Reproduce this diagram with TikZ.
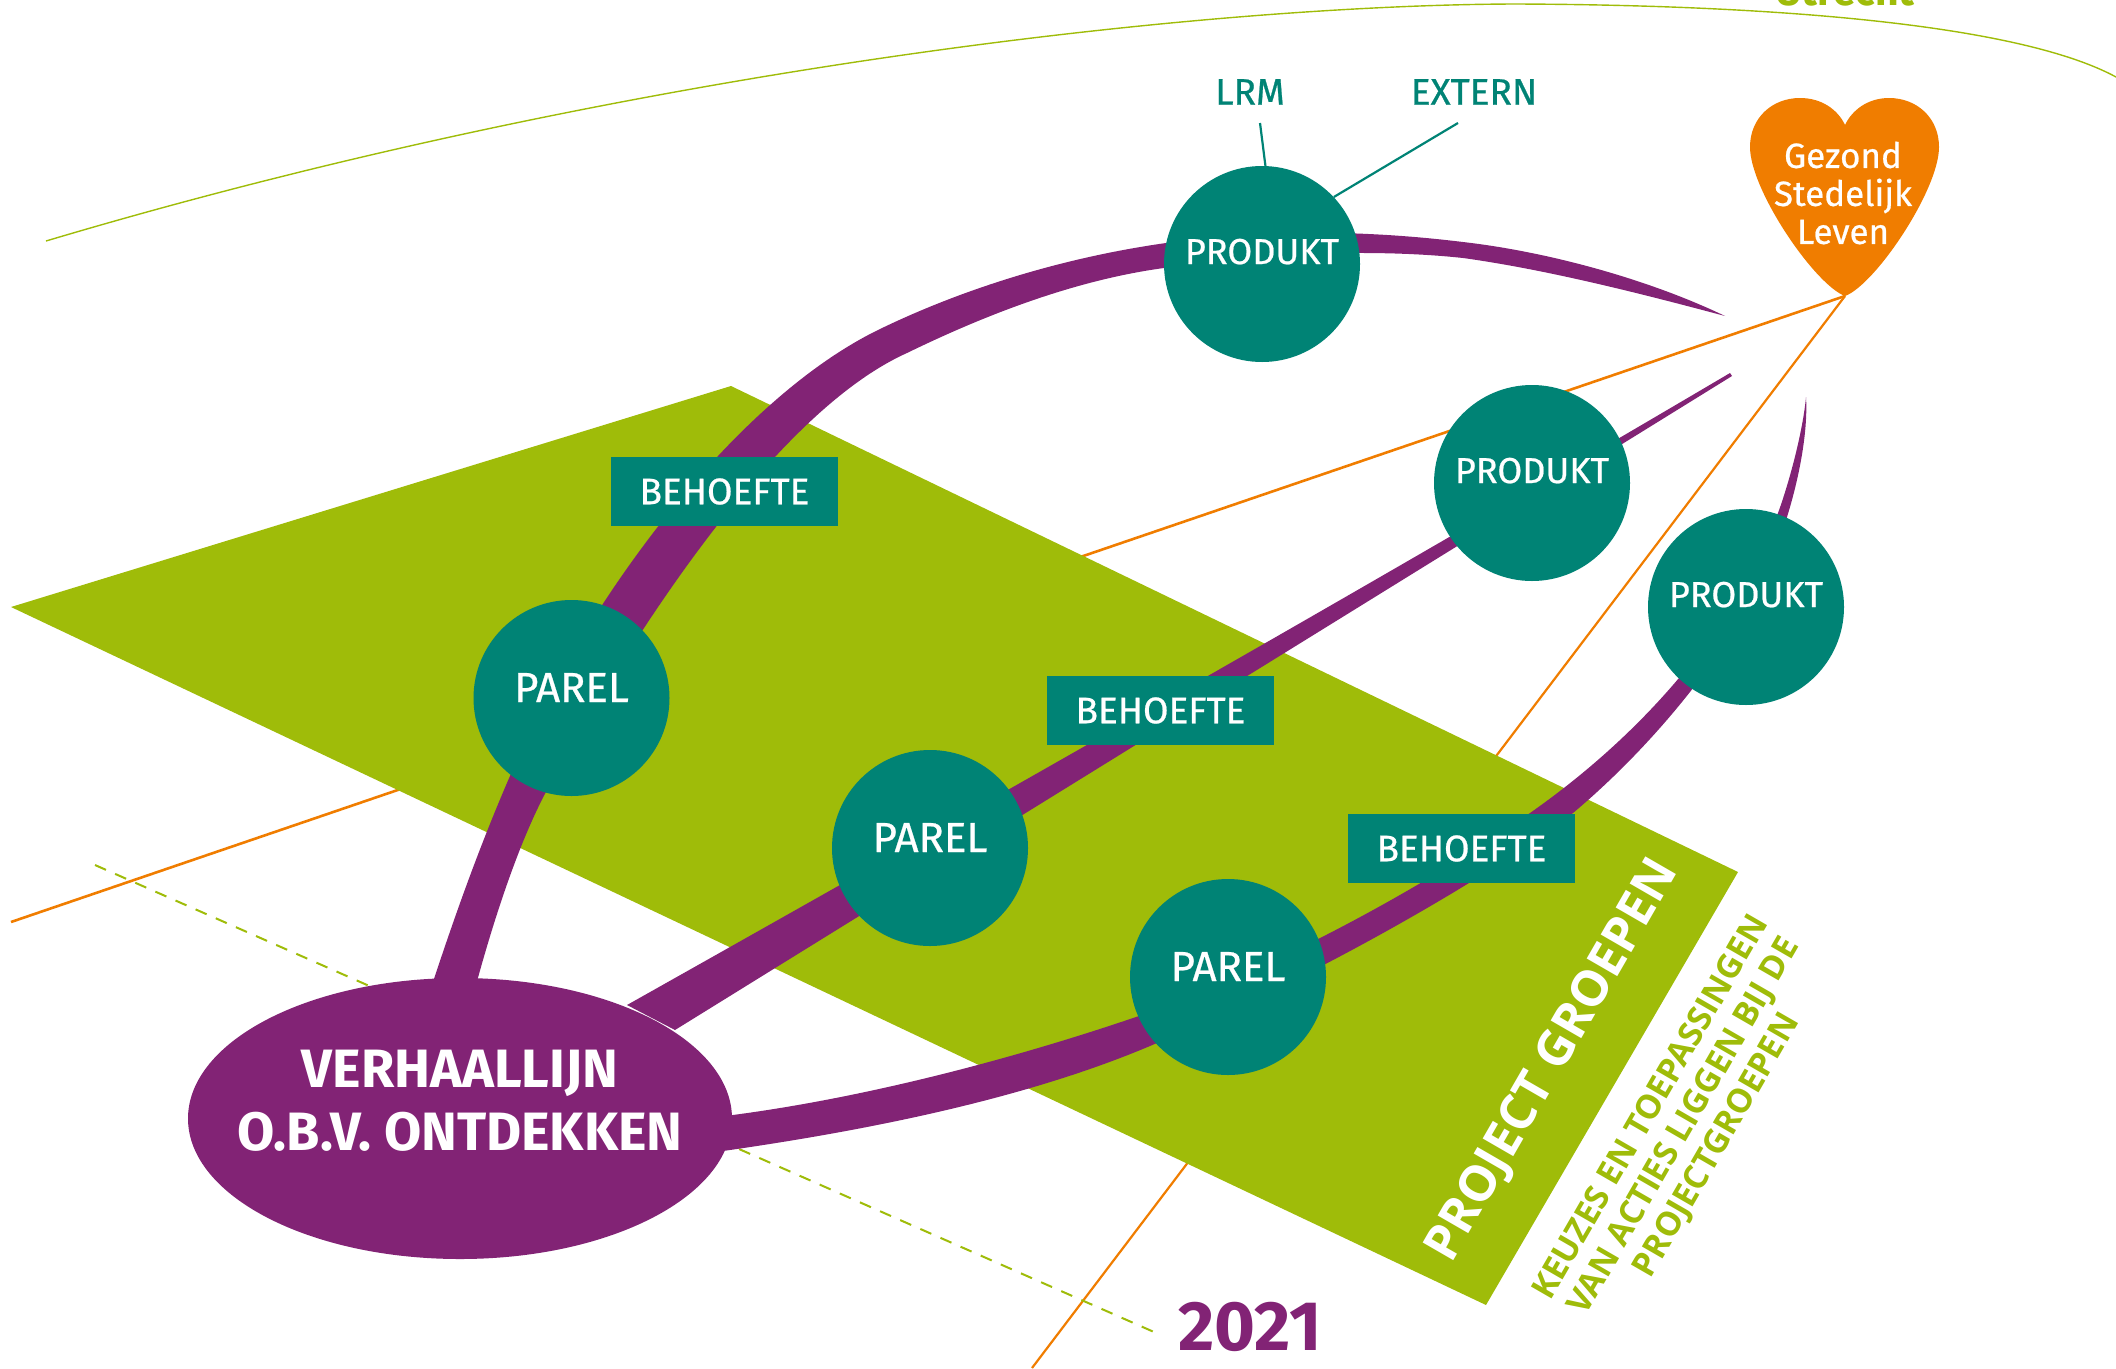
\documentclass[tikz,border=0pt]{standalone}
\usetikzlibrary{shapes.geometric}
\usepackage{fontspec}
\setmainfont{Fira Sans}
\newfontfamily\rotfont{Open Sans}
\definecolor{teal1}{HTML}{008375}
\definecolor{purp}{HTML}{822375}
\definecolor{lime}{HTML}{9FBC09}
\definecolor{orng}{HTML}{F07D00}
\newcommand{\labelfont}[1]{\fontsize{#1}{#1}\selectfont\addfontfeatures{FakeBold=0.6}}
\tikzset{
  plane/.style={fill=lime,draw=none},
  circ/.style={circle,fill=teal1,text=white,minimum size=196pt,inner sep=0pt,text height=0pt,text depth=0pt,font=\labelfont{36}},
  pearl/.style={circ,text height=8pt,font=\labelfont{42}},
  need/.style={rectangle,fill=teal1,text=white,minimum width=227pt,minimum height=69pt,inner sep=0pt,font=\labelfont{37}},
  tape/.style={fill=purp,draw=none},
  hopeline/.style={draw=orng,line width=2.6pt},
  timeline/.style={draw=lime,line width=2pt,dash pattern=on 12pt off 10pt},
  arcline/.style={draw=lime,line width=1.4pt},
  tie/.style={draw=teal1,line width=2.2pt},
  ext/.style={text=teal1,font=\labelfont{37}},
}
\begin{document}
\begin{tikzpicture}[x=1pt,y=-1pt]
\useasboundingbox (0,0) rectangle (2116,1368);
\clip (0,0) rectangle (2116,1368);
% far elements
\node[anchor=base,text=lime,font=\fontsize{41}{44}\selectfont\bfseries] (streek) at (1845,5) {Utrecht};
\coordinate (arcA) at (46,241);
\coordinate (arcB) at (2116,77);
\draw[arcline] (arcA) .. controls (620,70) and (1200,5) .. (1515,4) .. controls (1780,5) and (2020,25) .. (arcB);
\coordinate (tip) at (1845,296);
\coordinate (oa) at (11,922);
\coordinate (ob) at (1032,1368);
\draw[hopeline] (tip) -- (oa);
\draw[hopeline,line width=2.2pt] (tip) -- (ob);
\coordinate (da) at (95,865);
\coordinate (db) at (1154,1332);
\draw[timeline] (da) -- (db);
% plane
\fill[plane] (731,386) -- (1738,872) -- (1486,1305) -- (11,607) -- cycle;
% tapered story lines
\fill[tape] (432,985) .. controls (455,915) and (480,845) .. (510,776)
  .. controls (585,600) and (735,400) .. (878,330)
  .. controls (960,290) and (1060,258) .. (1166,243)
  .. controls (1265,229) and (1365,230) .. (1463,242)
  .. controls (1550,252) and (1650,280) .. (1725,316)
  .. controls (1650,296) and (1550,270) .. (1463,258)
  .. controls (1380,249) and (1265,252) .. (1164,268)
  .. controls (1075,280) and (985,315) .. (907,353)
  .. controls (780,410) and (640,620) .. (547,790)
  .. controls (520,840) and (495,915) .. (476,985) -- cycle;
\fill[tape] (627,1005) .. controls (995,798) and (1362,590) .. (1730,373)
  -- (1732,376) .. controls (1380,594) and (1027,812) .. (675,1030) -- cycle;
\fill[tape] (725,1116) .. controls (860,1099) and (1010,1060) .. (1139,1016)
  .. controls (1270,971) and (1420,890) .. (1530,813)
  .. controls (1630,743) and (1730,640) .. (1778,513)
  .. controls (1790,480) and (1803,430) .. (1806,397)
  .. controls (1808,430) and (1800,475) .. (1787,517)
  .. controls (1755,625) and (1660,740) .. (1573,813)
  .. controls (1486,880) and (1300,985) .. (1157,1043)
  .. controls (1030,1098) and (870,1130) .. (723,1151) -- cycle;
% teal ties
\coordinate (lrmend) at (1260,123);
\coordinate (extend) at (1458,123);
% nodes
\node[ellipse,fill=purp,minimum width=544pt,minimum height=281pt,inner sep=0pt,
  label={[text=white,align=center,yshift=18pt,font=\fontsize{54}{63}\selectfont\bfseries]center:{VERHAALLIJN\\O.B.V. ONTDEKKEN}}] (story) at (460,1118.5) {};
\node[pearl] (p1) at (571.5,698) {PAREL};
\node[pearl] (p2) at (930,848) {PAREL};
\node[pearl] (p3) at (1228,977) {PAREL};
\node[circ] (d1) at (1262,264) {PRODUKT};
\node[circ] (d2) at (1532,483) {PRODUKT};
\node[circ] (d3) at (1746,607) {PRODUKT};
\node[need] (b1) at (724.5,491.5) {BEHOEFTE};
\node[need] (b2) at (1160.5,710.5) {BEHOEFTE};
\node[need] (b3) at (1461.5,848.5) {BEHOEFTE};
\draw[tie] (d1.88) -- (lrmend);
\draw[tie] (d1.43) -- (extend);
\node[ext] (lrm) at (1250,92) {LRM};
\node[ext] (extern) at (1474,92) {EXTERN};
% heart
\fill[orng] (tip) .. controls (1815,285) and (1750,190) .. (1750,147)
  .. controls (1750,118) and (1772,98) .. (1800,98)
  .. controls (1822,98) and (1838,110) .. (1845,125)
  .. controls (1852,110) and (1868,98) .. (1889,98)
  .. controls (1917,98) and (1939,118) .. (1939,147)
  .. controls (1939,190) and (1875,285) .. (tip) -- cycle;
\node[text=white,align=center,font=\fontsize{35}{38}\selectfont\addfontfeatures{FakeBold=0.6}] (heart) at (1843,193) {Gezond\\Stedelijk\\Leven};
% texts
\node[text=white,rotate=60,font=\rotfont\fontsize{49.5}{54}\selectfont\bfseries] (pg) at (1554,1061) {PROJECT GROEPEN};
\node[text=lime,rotate=60,align=center,font=\rotfont\fontsize{33.4}{38}\selectfont\bfseries] (keuzes) at (1685,1127) {KEUZES EN TOEPASSINGEN\\VAN ACTIES LIGGEN BIJ DE\\PROJECTGROEPEN};
\node[text=purp,font=\fontsize{70}{74}\selectfont\bfseries] (year) at (1250,1327) {2021};
\end{tikzpicture}
\end{document}
